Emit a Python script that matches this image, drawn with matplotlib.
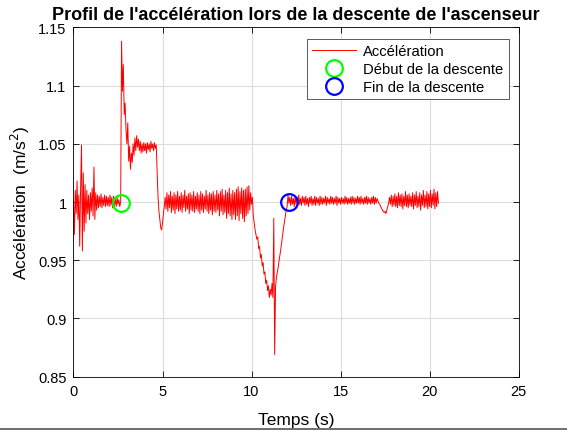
import numpy as np
import matplotlib
matplotlib.use("Agg")
import matplotlib.pyplot as plt
from matplotlib.lines import Line2D

plt.rcParams["font.family"] = ["Liberation Sans", "DejaVu Sans"]

# acceleration, one value every 0.05 s (one row per second)
dt = 0.05
accel = [
    1.000, 0.972, 1.010, 0.990, 1.018, 0.985, 1.006, 0.962, 1.012, 1.049,
    0.958, 1.025, 0.975, 1.015, 0.982, 1.010, 0.990, 1.006, 0.985, 1.008,
    0.992, 1.012, 0.988, 1.030, 0.985, 1.008, 0.993, 1.006, 0.995, 1.005,
    0.996, 1.007, 0.995, 1.004, 0.997, 1.006, 0.996, 1.005, 0.997, 1.004,
    0.996, 1.006, 0.997, 1.004, 0.995, 1.005, 0.997, 1.003, 0.996, 1.004,
    0.998, 1.002, 0.996, 1.000, 1.138, 1.095, 1.118, 1.075, 1.085, 1.062,
    1.050, 1.068, 1.035, 1.048, 1.028, 1.042, 1.034, 1.050, 1.040, 1.055,
    1.044, 1.057, 1.047, 1.054, 1.044, 1.052, 1.042, 1.050, 1.043, 1.051,
    1.044, 1.050, 1.042, 1.051, 1.045, 1.050, 1.043, 1.052, 1.046, 1.050,
    1.044, 1.051, 1.046, 1.049, 1.025, 1.004, 0.992, 0.985, 0.978, 0.976,
    0.982, 0.990, 0.996, 1.004, 0.994, 1.008, 0.992, 1.006, 0.995, 1.009,
    0.991, 1.005, 0.993, 1.008, 0.990, 1.006, 0.994, 1.009, 0.992, 1.005,
    0.993, 1.008, 0.991, 1.006, 0.995, 1.010, 0.992, 1.005, 0.994, 1.007,
    0.990, 1.008, 0.993, 1.006, 0.992, 1.009, 0.991, 1.005, 0.994, 1.008,
    0.992, 1.006, 0.990, 1.009, 0.993, 1.007, 0.991, 1.005, 0.994, 1.010,
    0.992, 1.006, 0.990, 1.008, 0.993, 1.007, 0.989, 1.009, 0.992, 1.006,
    0.991, 1.010, 0.993, 1.007, 0.988, 1.009, 0.992, 1.011, 0.989, 1.006,
    0.991, 1.010, 0.986, 1.008, 0.990, 1.012, 0.988, 1.007, 0.985, 1.010,
    0.989, 1.008, 0.985, 1.011, 0.988, 1.013, 0.984, 1.009, 0.990, 1.012,
    0.986, 1.010, 0.983, 1.011, 0.988, 1.013, 0.990, 1.014, 0.993, 1.008,
    0.998, 1.004, 0.988, 0.982, 0.976, 0.972, 0.968, 0.970, 0.960, 0.962,
    0.952, 0.955, 0.945, 0.948, 0.938, 0.940, 0.930, 0.933, 0.924, 0.928,
    0.918, 0.925, 0.920, 0.930, 0.918, 0.986, 0.869, 0.928, 0.935, 0.940,
    0.944, 0.950, 0.955, 0.960, 0.966, 0.972, 0.978, 0.983, 0.988, 0.993,
    0.996, 1.006, 0.999, 1.004, 0.997, 1.005, 0.998, 1.003, 0.996, 1.005,
    0.998, 1.004, 0.997, 1.006, 0.998, 1.003, 0.997, 1.005, 0.999, 1.004,
    0.997, 1.005, 0.998, 1.003, 0.996, 1.004, 0.999, 1.005, 0.997, 1.003,
    0.998, 1.005, 0.997, 1.004, 0.999, 1.003, 0.997, 1.005, 0.998, 1.004,
    0.998, 1.003, 0.999, 1.005, 0.997, 1.004, 0.999, 1.003, 0.998, 1.005,
    0.999, 1.004, 0.998, 1.003, 0.999, 1.005, 0.997, 1.004, 0.999, 1.003,
    0.998, 1.004, 0.999, 1.003, 0.998, 1.005, 0.999, 1.004, 0.998, 1.003,
    0.999, 1.004, 0.998, 1.005, 0.999, 1.004, 0.998, 1.003, 0.999, 1.005,
    0.999, 1.004, 0.998, 1.005, 0.999, 1.003, 0.998, 1.004, 0.999, 1.005,
    0.998, 1.004, 0.999, 1.003, 0.998, 1.004, 0.999, 1.005, 0.998, 1.004,
    0.999, 1.003, 1.001, 0.999, 0.998, 0.996, 0.995, 0.993, 0.992, 0.991,
    0.992, 0.990, 0.993, 0.996, 0.999, 1.004, 0.998, 1.006, 0.996, 1.005,
    0.997, 1.007, 0.996, 1.005, 0.995, 1.008, 0.997, 1.006, 0.996, 1.007,
    0.994, 1.005, 0.997, 1.009, 0.996, 1.006, 0.995, 1.007, 0.997, 1.005,
    0.996, 1.008, 0.994, 1.006, 0.997, 1.009, 0.995, 1.005, 0.996, 1.008,
    0.993, 1.006, 0.997, 1.010, 0.995, 1.006, 0.996, 1.009, 0.994, 1.007,
    0.996, 1.010, 0.995, 1.007, 0.997, 1.011, 0.994, 1.008, 0.996, 1.009,
    0.999,
]
temps = np.arange(len(accel)) * dt

debut_t, debut_a = 2.65, 0.999
fin_t, fin_a = 12.08, 1.000

fig = plt.figure(figsize=(5.67, 4.31), dpi=100)
ax = fig.add_axes([0.1296, 0.1237, 0.785, 0.8106])

ax.plot(temps, accel, color="red", linewidth=0.7, label="Accélération")
ax.plot(debut_t, debut_a, "o", markersize=12, markerfacecolor="none",
        markeredgecolor=(0, 1, 0), markeredgewidth=1.6,
        label="Début de la descente")
ax.plot(fin_t, fin_a, "o", markersize=12, markerfacecolor="none",
        markeredgecolor=(0, 0, 1), markeredgewidth=1.6,
        label="Fin de la descente")

ax.set_xlim(0, 25)
ax.set_ylim(0.85, 1.15)
ax.set_xticks([0, 5, 10, 15, 20, 25])
ax.set_yticks([0.85, 0.9, 0.95, 1.0, 1.05, 1.1, 1.15])
ax.set_yticklabels(["0.85", "0.9", "0.95", "1", "1.05", "1.1", "1.15"])
ax.tick_params(direction="in", labelsize=10.5, length=4, width=0.6,
               top=True, right=True, pad=5)
ax.grid(True, color="#dcdcdc", linewidth=0.8)
ax.set_axisbelow(True)
for s in ax.spines.values():
    s.set_linewidth(0.6)

ax.set_title("Profil de l'accélération lors de la descente de l'ascenseur",
             fontsize=13, fontweight="bold", pad=6)
ax.set_xlabel("Temps (s)", fontsize=12.5, labelpad=10)
ax.set_ylabel("Accélération  (m/s$^2$)", fontsize=12.5, labelpad=4)

leg = ax.legend(loc="upper right", bbox_to_anchor=(0.978, 0.966),
                borderaxespad=0, fontsize=10.6, fancybox=False,
                framealpha=1, edgecolor="#404040", handlelength=3.0,
                handletextpad=0.5, borderpad=0.35, labelspacing=0.25)
leg.get_frame().set_linewidth(0.6)

# thin grey border along the bottom edge of the picture
fig.add_artist(Line2D([0, 1], [0.002, 0.002], transform=fig.transFigure,
                      color="#555555", linewidth=1.2))

fig.savefig("out.png", dpi=100)
